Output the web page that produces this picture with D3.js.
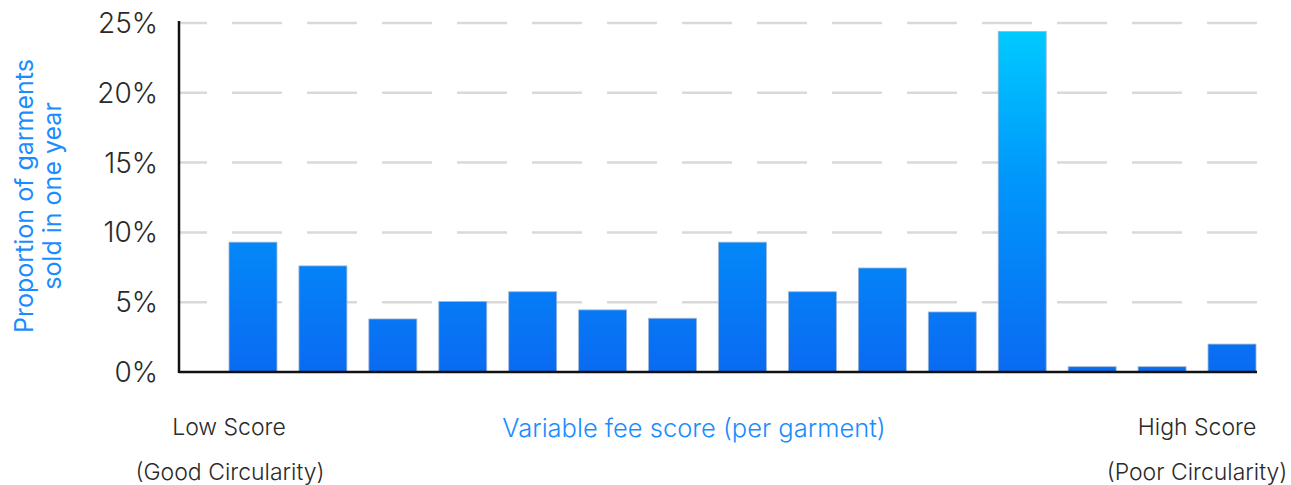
<!DOCTYPE html>
<html>
<head>
<meta charset="utf-8">
<script src="https://cdn.jsdelivr.net/npm/d3@7"></script>
<style>
  html, body { margin: 0; padding: 0; background: #fff; }
  svg { display: block; font-family: Inter, "Noto Sans", sans-serif; }
</style>
</head>
<body>
<svg id="chart"></svg>
<script>
// score buckets, low (good circularity) to high (poor circularity)
var scoreBuckets = ["s1","s2","s3","s4","s5","s6","s7","s8","s9","s10","s11","s12","s13","s14","s15"];
var shareSold = [9.3, 7.6, 3.8, 5.05, 5.75, 4.45, 3.85, 9.3, 5.75, 7.45, 4.3, 24.4, 0.38, 0.38, 2.0];
var yTicks = [0, 5, 10, 15, 20, 25];

var width = 1291, height = 485;
var axisLeft = 179, axisRight = 1257;
var plotTop = 23, plotBottom = 372;

var svg = d3.select("#chart")
    .attr("width", width)
    .attr("height", height);

var x = d3.scaleBand()
    .domain(scoreBuckets)
    .range([229, 1256])
    .paddingInner(0.314)
    .paddingOuter(0);

var y = d3.scaleLinear()
    .domain([0, 25])
    .range([plotBottom, plotTop]);

// gradient runs over the whole plot height, so tall bars get the cyan top
var defs = svg.append("defs");
var grad = defs.append("linearGradient")
    .attr("id", "barGrad")
    .attr("gradientUnits", "userSpaceOnUse")
    .attr("x1", 0).attr("x2", 0)
    .attr("y1", y(25)).attr("y2", y(0));
grad.append("stop").attr("offset", "0%").attr("stop-color", "#00cdff");
grad.append("stop").attr("offset", "45%").attr("stop-color", "#0096fb");
grad.append("stop").attr("offset", "100%").attr("stop-color", "#0a6af2");

// dashed grid lines
svg.append("g")
  .selectAll("line")
  .data(yTicks.filter(function(d) { return d > 0; }))
  .join("line")
    .attr("x1", axisLeft)
    .attr("x2", axisRight)
    .attr("y1", function(d) { return y(d); })
    .attr("y2", function(d) { return y(d); })
    .attr("stroke", "#d9d9d9")
    .attr("stroke-width", 2.5)
    .attr("stroke-dasharray", "50,25")
    .attr("stroke-dashoffset", 22);

// y tick labels
svg.append("g")
  .selectAll("text")
  .data(yTicks)
  .join("text")
    .attr("x", 158)
    .attr("y", function(d) { return y(d); })
    .attr("dy", "0.36em")
    .attr("text-anchor", "end")
    .attr("fill", "#2a2a2a")
    .attr("font-size", 28)
    .attr("font-weight", 300)
    .text(function(d) { return d + "%"; });

// bars
svg.append("g")
  .selectAll("rect")
  .data(shareSold)
  .join("rect")
    .attr("x", function(d, i) { return x(scoreBuckets[i]); })
    .attr("y", function(d) { return y(d); })
    .attr("width", x.bandwidth())
    .attr("height", function(d) { return y(0) - y(d); })
    .attr("fill", "url(#barGrad)")
    .attr("stroke", "#9fb6d6")
    .attr("stroke-width", 0.8);

// axis lines
svg.append("line")
    .attr("x1", axisLeft).attr("x2", axisRight)
    .attr("y1", plotBottom).attr("y2", plotBottom)
    .attr("stroke", "#111").attr("stroke-width", 2.5);
svg.append("line")
    .attr("x1", axisLeft).attr("x2", axisLeft)
    .attr("y1", 21).attr("y2", plotBottom + 1)
    .attr("stroke", "#111").attr("stroke-width", 2.5);

// y axis title
var yTitle = svg.append("text")
    .attr("transform", "translate(39,196) rotate(-90)")
    .attr("text-anchor", "middle")
    .attr("fill", "#1a8cff")
    .attr("font-size", 25);
yTitle.append("tspan").attr("x", 0).attr("y", -6).text("Proportion of garments");
yTitle.append("tspan").attr("x", 0).attr("y", 22).text("sold in one year");

// x axis labels
var xLabels = [
  { t: "Low Score", x: 229, y: 435, c: "#2a2a2a", s: 23 },
  { t: "(Good Circularity)", x: 230, y: 480, c: "#2a2a2a", s: 23 },
  { t: "Variable fee score (per garment)", x: 694, y: 437, c: "#1a8cff", s: 25.5 },
  { t: "High Score", x: 1197, y: 435, c: "#2a2a2a", s: 23 },
  { t: "(Poor Circularity)", x: 1197, y: 480, c: "#2a2a2a", s: 23 }
];
svg.append("g")
  .selectAll("text")
  .data(xLabels)
  .join("text")
    .attr("x", function(d) { return d.x; })
    .attr("y", function(d) { return d.y; })
    .attr("text-anchor", "middle")
    .attr("fill", function(d) { return d.c; })
    .attr("font-size", function(d) { return d.s; })
    .attr("font-weight", 300)
    .text(function(d) { return d.t; });
</script>
</body>
</html>
